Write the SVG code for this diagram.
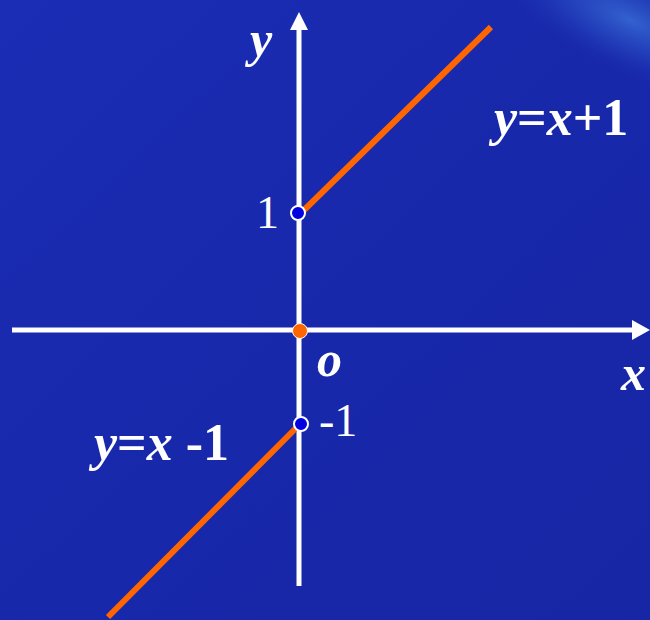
<svg xmlns="http://www.w3.org/2000/svg" width="650" height="620" viewBox="0 0 650 620">
<defs>
<linearGradient id="bg" x1="0" y1="0" x2="1" y2="1">
<stop offset="0" stop-color="#1a2db4"/>
<stop offset="0.5" stop-color="#1828ab"/>
<stop offset="1" stop-color="#1726a4"/>
</linearGradient>
<radialGradient id="glow" cx="0" cy="0" r="1" gradientUnits="userSpaceOnUse" gradientTransform="translate(630,20) rotate(25) scale(150,55)">
<stop offset="0" stop-color="#3a70d8" stop-opacity="0.8"/>
<stop offset="0.5" stop-color="#2c55c8" stop-opacity="0.45"/>
<stop offset="1" stop-color="#1a2db4" stop-opacity="0"/>
</radialGradient>
<style>
.axis{stroke:#ffffff;stroke-width:5;fill:none}
.graph{stroke:#ff6600;stroke-width:6;fill:none}
.lbl{font-family:"Liberation Serif","Times New Roman",serif;fill:#ffffff}
.var{font-style:italic;font-weight:bold}
.num{font-weight:bold}
.open{fill:#0000e0;stroke:#ffffff;stroke-width:2}
</style>
</defs>
<rect width="650" height="620" fill="url(#bg)"/>
<rect width="650" height="620" fill="url(#glow)"/>
<g id="connectors">
<line class="axis" x1="12" y1="330" x2="634" y2="330"/>
<polygon points="650,330 632,320 632,340" fill="#ffffff"/>
<line class="axis" x1="299" y1="586" x2="299" y2="28"/>
<polygon points="299,12 290,30 308,30" fill="#ffffff"/>
<line class="graph" x1="299" y1="215" x2="491" y2="27"/>
<line class="graph" x1="300" y1="424" x2="108" y2="617"/>
</g>
<g id="origin">
<circle cx="300" cy="331" r="7.5" fill="#ff6600" stroke="#ffffff" stroke-width="1"/>
<text class="lbl var" x="317" y="376" font-size="50">o</text>
</g>
<g id="point-1">
<circle class="open" cx="298" cy="213" r="7"/>
<text class="lbl" x="256" y="228" font-size="46">1</text>
</g>
<g id="point-neg1">
<circle class="open" cx="301" cy="424" r="7"/>
<text class="lbl" x="319" y="436" font-size="46">-1</text>
</g>
<g id="labels">
<text class="lbl var" x="250" y="56" font-size="50">y</text>
<text class="lbl var" x="621" y="390" font-size="50">x</text>
<text class="lbl" x="494" y="135" font-size="52"><tspan class="var">y</tspan><tspan class="num">=</tspan><tspan class="var">x</tspan><tspan class="num">+1</tspan></text>
<text class="lbl" x="94" y="460" font-size="52"><tspan class="var">y</tspan><tspan class="num">=</tspan><tspan class="var">x</tspan><tspan class="num"> -1</tspan></text>
</g>
</svg>
